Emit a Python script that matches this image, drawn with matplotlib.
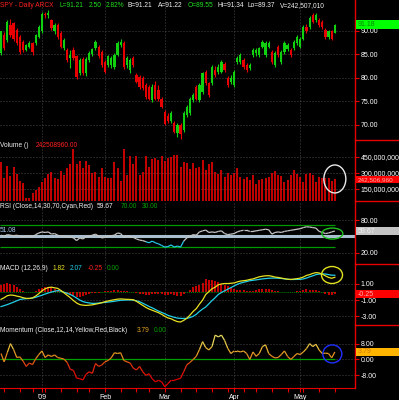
import numpy as np
import matplotlib
matplotlib.use("Agg")
import matplotlib.pyplot as plt
from matplotlib.collections import LineCollection
from matplotlib.colors import LinearSegmentedColormap, Normalize
from matplotlib.patches import Ellipse, Rectangle
from matplotlib.lines import Line2D
from matplotlib.ticker import FuncFormatter, FixedLocator

plt.rcParams["font.family"] = ["Liberation Sans", "DejaVu Sans"]

# ---------------- data (SPY daily, 12 Dec 2008 - 18 May 2009) ----------------
opens = [85.2, 89.0, 88.0, 91.2, 91.5, 90.1, 88.7, 87.6, 85.9, 86.6,
         87.3, 87.3, 88.7, 89.8, 93.6, 93.2, 92.2, 89.8, 91.2, 89.4,
         86.2, 85.9, 84.1, 85.9, 84.5, 80.9, 83.9, 81.0, 83.8, 85.0,
         86.2, 86.6, 85.5, 83.4, 82.7, 82.7, 82.3, 84.8, 86.9, 87.3,
         82.7, 81.6, 84.1, 80.6, 80.2, 79.9, 78.5, 78.1, 75.3, 78.5,
         77.5, 75.6, 72.8, 71.8, 70.8, 70.5, 68.2, 70.0, 68.9, 72.1,
         72.5, 75.3, 78.1, 75.3, 77.0, 81.3, 78.8, 78.8, 81.6, 81.3,
         81.3, 83.0, 80.0, 79.0, 78.5, 83.4, 83.4, 83.8, 82.7, 82.0,
         84.8, 85.2, 84.8, 86.6, 84.8, 86.6, 85.5, 82.7, 86.6, 83.4,
         85.5, 86.0, 85.9, 86.2, 87.3, 86.6, 88.3, 90.8, 90.8, 93.3,
         92.2, 92.2, 91.9, 90.1, 88.7, 89.8, 89.55]
highs = [90.0, 89.6, 92.3, 92.4, 91.9, 90.5, 89.0, 87.9, 87.2, 87.7,
         87.6, 89.3, 91.1, 93.9, 94.0, 94.4, 92.5, 91.6, 91.5, 89.8,
         88.4, 86.3, 85.8, 86.5, 84.9, 84.2, 84.3, 84.4, 85.6, 86.4,
         88.0, 87.0, 85.9, 83.8, 84.9, 84.5, 85.2, 87.7, 88.3, 87.7,
         84.5, 84.2, 84.5, 81.0, 80.6, 80.3, 78.9, 78.5, 78.6, 79.3,
         78.4, 76.0, 73.2, 72.6, 72.9, 70.9, 70.4, 70.5, 72.9, 74.3,
         76.0, 76.7, 78.5, 78.9, 81.3, 81.7, 79.2, 82.7, 82.4, 82.9,
         83.8, 83.4, 80.4, 80.6, 81.7, 84.6, 85.2, 84.2, 83.1, 83.1,
         86.3, 86.4, 86.6, 88.0, 87.7, 87.8, 85.9, 85.6, 87.0, 85.9,
         87.7, 87.3, 86.3, 88.0, 89.1, 88.7, 91.2, 91.3, 93.0, 93.7,
         93.7, 92.6, 92.3, 90.5, 90.2, 90.2, 91.34]
lows = [84.8, 85.8, 87.6, 88.6, 87.8, 86.9, 85.1, 85.5, 85.6, 86.3,
        84.9, 86.9, 88.4, 89.5, 92.6, 92.7, 90.1, 89.2, 88.3, 86.2,
        85.9, 83.4, 82.1, 83.7, 79.8, 80.5, 80.5, 80.3, 83.4, 84.6,
        85.9, 84.1, 82.3, 80.9, 82.3, 82.0, 81.9, 84.5, 86.5, 81.9,
        82.0, 81.0, 82.3, 78.8, 77.7, 77.4, 75.6, 75.2, 74.9, 75.2,
        75.0, 73.5, 69.9, 70.4, 70.4, 68.2, 67.4, 67.1, 68.5, 71.7,
        72.1, 74.9, 75.2, 74.9, 76.6, 78.4, 75.9, 78.4, 80.2, 80.7,
        80.9, 81.2, 78.1, 78.6, 78.1, 82.9, 83.0, 81.9, 81.2, 81.6,
        84.4, 84.6, 84.4, 86.2, 84.3, 86.2, 83.0, 82.3, 84.4, 83.0,
        85.1, 85.6, 84.4, 85.8, 86.9, 86.2, 87.9, 89.4, 90.4, 91.5,
        91.8, 90.8, 90.4, 88.3, 88.3, 87.9, 89.37]
closes = [89.8, 86.2, 91.9, 89.0, 88.1, 87.3, 85.5, 85.9, 86.9, 87.4,
          85.5, 89.0, 90.8, 93.6, 93.2, 93.8, 90.5, 91.2, 88.7, 86.6,
          88.0, 83.8, 84.8, 84.1, 80.2, 83.8, 80.9, 84.0, 85.2, 86.0,
          87.6, 84.5, 82.7, 81.3, 84.5, 84.1, 84.8, 87.3, 87.6, 82.3,
          84.1, 83.8, 82.7, 79.2, 78.1, 77.8, 76.0, 75.6, 78.1, 75.6,
          75.4, 73.9, 70.3, 70.8, 72.5, 68.6, 70.0, 68.0, 72.5, 73.9,
          75.6, 76.3, 75.6, 78.5, 80.9, 78.8, 76.3, 82.3, 80.6, 82.3,
          83.4, 81.6, 78.5, 79.9, 81.3, 84.1, 84.8, 82.3, 81.6, 82.7,
          85.9, 85.9, 86.2, 87.6, 87.3, 87.4, 83.4, 85.2, 84.8, 85.5,
          87.3, 86.9, 84.8, 87.6, 88.7, 88.3, 90.8, 89.8, 92.6, 91.9,
          93.3, 91.2, 90.8, 88.7, 89.8, 88.3, 91.21]
volumes_m = [406, 253, 366, 275, 353, 288, 225, 210, 70, 68,
             112, 140, 172, 220, 256, 288, 312, 253, 244, 319,
             281, 344, 381, 525, 381, 412, 344, 412, 375, 297,
             312, 266, 350, 266, 256, 253, 400, 344, 228, 525,
             281, 462, 381, 462, 281, 306, 462, 356, 431, 440,
             419, 462, 412, 437, 450, 465, 470, 356, 406, 390,
             340, 390, 344, 360, 420, 330, 380, 400, 310, 290,
             330, 260, 300, 280, 300, 350, 260, 240, 260, 230,
             280, 200, 230, 240, 250, 260, 300, 320, 280, 270,
             220, 230, 280, 330, 290, 266, 220, 288, 298, 281,
             220, 266, 253, 253, 256, 225, 242.5]
rsi = [52, 50, 53, 52, 51, 52, 50, 49, 50, 51, 49, 53, 56,
       58, 57, 58, 54, 55, 52, 50, 51, 48, 49, 47, 42,
       47, 45, 49, 50, 52, 54, 50, 47, 48, 50, 51, 52,
       56, 55, 48, 50, 49, 48, 45, 43, 42, 40, 38, 41,
       38, 36, 33, 30, 31, 34, 30, 32, 30,
       41, 47, 50, 53, 52, 58, 60, 61.5, 57, 58, 57, 59,
       60, 55, 53, 54, 55, 58, 60, 61, 61, 59, 59, 60,
       61, 62, 63, 62, 54, 57, 58, 57, 59, 60, 61, 62,
       63, 64, 66, 67.6, 67, 66, 65, 59, 57, 55, 56, 58, 59.67]
macd = [-0.90, -0.70, -0.45, -0.37, -0.40, -0.50, -0.58, -0.70, -0.78, -0.79,
        -0.72, -0.50, -0.20, 0.15, 0.40, 0.55, 0.60, 0.52, 0.45, 0.20,
        -0.10, -0.40, -0.70, -1.05, -1.35, -1.55, -1.62, -1.65, -1.62, -1.58,
        -1.50, -1.42, -1.32, -1.20, -1.10, -1.02, -0.95, -0.88, -0.85, -0.88,
        -0.90, -0.92, -0.95, -1.15, -1.40, -1.65, -1.90, -2.10, -2.25, -2.40,
        -2.55, -2.75, -3.00, -3.20, -3.30, -3.50, -3.65, -3.70, -3.50, -3.25,
        -2.85, -2.40, -2.05, -1.50, -1.00, -0.30, 0.05, 0.40, 0.60, 0.90,
        1.00, 1.05, 1.05, 1.08, 1.12, 1.25, 1.35, 1.40, 1.45, 1.55,
        1.62, 1.75, 1.88, 1.95, 2.00, 2.02, 1.95, 1.85, 1.80, 1.72,
        1.65, 1.58, 1.55, 1.60, 1.65, 1.72, 1.85, 2.05, 2.15, 2.30,
        2.40, 2.35, 2.20, 2.00, 1.80, 1.70, 1.82]
signal = [-1.80, -1.68, -1.55, -1.40, -1.25, -1.08, -0.92, -0.86, -0.82, -0.80,
          -0.75, -0.65, -0.52, -0.40, -0.25, -0.12, 0.00, 0.10, 0.17, 0.12,
          -0.02, -0.15, -0.30, -0.50, -0.75, -0.98, -1.18, -1.28, -1.35, -1.40,
          -1.40, -1.36, -1.32, -1.28, -1.24, -1.20, -1.14, -1.08, -1.02, -1.00,
          -0.98, -0.98, -1.00, -1.08, -1.20, -1.38, -1.58, -1.78, -1.95, -2.15,
          -2.35, -2.52, -2.68, -2.88, -3.00, -3.12, -3.22, -3.25, -3.27, -3.25,
          -3.15, -3.00, -2.75, -2.40, -2.10, -1.85, -1.45, -1.05, -0.70, -0.30,
          -0.05, 0.15, 0.35, 0.55, 0.75, 0.95, 1.10, 1.20, 1.30, 1.40,
          1.45, 1.50, 1.56, 1.62, 1.66, 1.70, 1.72, 1.72, 1.70, 1.68,
          1.62, 1.58, 1.55, 1.55, 1.56, 1.56, 1.62, 1.72, 1.88, 2.00,
          2.15, 2.22, 2.24, 2.22, 2.15, 2.08, 2.07]
momentum = [3.0, -1.2, 3.5, 8.0, 5.0, 1.0, 1.3, -0.8, -3.5, -1.8,
            -2.6, 0.3, 2.5, 4.3, 1.0, 2.3, 1.5, 2.3, 1.0, 0.6,
            0.2, -1.5, -5.0, -5.5, -9.4, -9.7, -10.3, -7.5, -6.2, -7.0,
            -2.0, -3.5, -2.8, -1.2, -0.5, 0.8, 3.4, 3.0, 3.4, -0.5,
            -1.2, -1.8, -4.4, -5.3, -3.5, -6.2, -8.0, -7.2, -9.7, -11.3,
            -10.5, -11.3, -13.8, -12.2, -10.5, -10.5, -10.0, -9.5, -6.2, -2.7,
            -1.5, 0.0, 1.6, 5.0, 9.0, 6.0, 4.8, 6.5, 12.3, 11.4,
            12.3, 9.6, 5.6, 3.0, 4.3, 4.3, 3.8, 4.3, 3.0, 0.0,
            3.8, 1.6, 3.0, 6.5, 7.4, 3.0, 1.6, 0.8, 1.0, 2.5,
            4.3, 1.5, 0.0, 1.5, 3.0, 2.5, 3.8, 5.5, 8.0, 6.5,
            7.7, 4.8, 3.0, 3.2, 3.0, 0.8, 3.79]

month_ticks = [13, 33, 52, 74, 95]
month_labels = ["'09", "Feb", "Mar", "Apr", "May"]
week_ticks = [1, 6, 10, 14, 19, 24, 28, 33, 38, 43, 47, 52, 57, 62, 67,
              72, 77, 81, 86, 91, 96, 101, 106]

price_ticks = [70, 75, 80, 85, 90]
vol_ticks = [150, 300, 450]
rsi_ticks = [20, 80]
rsi_levels = [70, 30]
rsi_base = 51.08
macd_ticks = [1, -1, -3]
mom_ticks = [8, 0, -8]

# ---------------- figure ----------------
W, H = 399, 400
PR = 355
FS_T = 4.8
FS_A = 5.0
RED = "#e80000"
GREEN = "#10d010"
fig = plt.figure(figsize=(W / 100, H / 100), dpi=100, facecolor="black")

idx = np.arange(len(closes))
XL = (-0.32, 112.4)


def panel(top, bottom, ylo, yhi, ticks, fmt):
    ax = fig.add_axes([0, 1 - bottom / H, PR / W, (bottom - top) / H])
    ax.set_facecolor("black")
    ax.set_xlim(*XL)
    ax.set_ylim(ylo, yhi)
    for k, s in ax.spines.items():
        s.set_visible(k == "right")
    ax.spines["right"].set_color(RED)
    ax.spines["right"].set_linewidth(1.0)
    ax.yaxis.tick_right()
    ax.yaxis.set_major_locator(FixedLocator(ticks))
    ax.yaxis.set_major_formatter(FuncFormatter(fmt))
    ax.tick_params(axis="y", colors=RED, labelcolor="white", labelsize=FS_A,
                   length=3, width=0.8, pad=1.0)
    ax.set_xticks(month_ticks)
    ax.tick_params(axis="x", bottom=False, labelbottom=False)
    ax.grid(True, color="#555555", linestyle=(0, (1.2, 2.4)), linewidth=0.6)
    ax.set_axisbelow(True)
    return ax


f2 = lambda v, p: f"{v:.2f}"

# price
axp = panel(0, 140, 66.82, 96.46, price_ticks, f2)
o = np.array(opens); c = np.array(closes)
cols = np.where(c >= o, GREEN, RED)
axp.vlines(idx, lows, highs, colors=cols, linewidth=0.8)
axp.bar(idx, np.maximum(np.abs(c - o), 0.15), bottom=np.minimum(o, c),
        width=0.72, color=cols, linewidth=0)

# volume
VLO = 37.5
axv = panel(140, 201, VLO, 609, vol_ticks, lambda v, p: f"{int(v * 1e6):,}")
axv.vlines(idx, VLO, volumes_m, colors=RED, linewidth=1.2)

# RSI
axr = panel(201, 264, -1.2, 115.1, rsi_ticks, f2)
axr.axhline(rsi_base, color="#a9bfd0", linewidth=2.2, zorder=2)
axr.hlines(rsi_levels, XL[0], 106, colors="#009a00", linewidth=0.9, zorder=2)
rv = np.array(rsi, dtype=float)
pts = np.column_stack([idx, rv]).reshape(-1, 1, 2)
segs = np.concatenate([pts[:-1], pts[1:]], axis=1)
seg_cols = ["#26c6e6" if min(a, b) < 40 else "#c4c4c4" for a, b in zip(rv[:-1], rv[1:])]
axr.add_collection(LineCollection(segs, colors=seg_cols, linewidths=0.9, zorder=3))

# MACD
axm = panel(264, 325, -4.07, 3.46, macd_ticks, f2)
hist = np.array(macd) - np.array(signal)
axm.hlines(0, XL[0], 106.5, colors="#008800", linewidth=0.7, linestyles=(0, (1, 1)))
axm.vlines(idx, 0, hist, colors=RED, linewidth=1.2, zorder=2)
axm.plot(idx, signal, color="#22d0e8", linewidth=0.9, zorder=3)
axm.plot(idx, macd, color="#e8e020", linewidth=0.9, zorder=4)

# Momentum
axo = panel(325, 388, -14.4, 17.4, mom_ticks, f2)
axo.hlines(0, XL[0], 106, colors="#00a000", linewidth=0.9, zorder=2)
mv = np.array(momentum)
pts = np.column_stack([idx, mv]).reshape(-1, 1, 2)
segs = np.concatenate([pts[:-1], pts[1:]], axis=1)
cmap = LinearSegmentedColormap.from_list(
    "mom", [(0.0, "#e00000"), (0.35, "#e03010"), (0.5, "#e07818"),
            (0.75, "#e8b030"), (1.0, "#e8dc60")])
lc = LineCollection(segs, cmap=cmap, norm=Normalize(-10, 10), linewidths=0.9, zorder=3)
lc.set_array((mv[:-1] + mv[1:]) / 2)
axo.add_collection(lc)
axo.spines["bottom"].set_visible(True)
axo.spines["bottom"].set_color(RED)
axo.set_xticks(month_ticks)
axo.set_xticklabels(month_labels)
axo.set_xticks(week_ticks, minor=True)
axo.tick_params(axis="x", which="both", bottom=True, labelbottom=True, colors=RED,
                labelcolor="white", labelsize=FS_A, length=3, width=0.8, pad=1.0)

# right-area separators
for y in [140, 201, 264, 325]:
    fig.add_artist(Line2D([PR / W, 1], [1 - y / H] * 2, color=RED, linewidth=1.0,
                          transform=fig.transFigure))


def ftxt(x, y, s, color, fs=FS_T):
    fig.text(x / W, 1 - y / H, s, color=color, fontsize=fs, ha="left", va="center")


def value_box(ax, val, text, fc, tc, h=9, fs=FS_A):
    yf = ax.transData.transform((0, val))[1] / fig.bbox.height
    fig.add_artist(Rectangle((PR / W + 0.6 / W, yf - h / 2 / H), (W - PR) / W, h / H,
                             transform=fig.transFigure, facecolor=fc, edgecolor="none",
                             zorder=5))
    fig.text(358 / W, yf, text, color=tc, fontsize=fs, ha="left", va="center", zorder=6)


def ring(ax, i, val, w, h, color):
    xd, yd = ax.transData.transform((i, val))
    fig.add_artist(Ellipse((xd / fig.bbox.width, yd / fig.bbox.height), w / W, h / H,
                           transform=fig.transFigure, fill=False, edgecolor=color,
                           linewidth=1.0, zorder=7))


value_box(axp, 91.18, "91.18", "#00ff00", "#008800")
value_box(axv, 238.0, "242,506,960", "#ff0000", "#ffb0b0", h=7, fs=4.6)
value_box(axr, 59.67, "59.67", "#c4c4c4", "#eeeeee", h=8)
value_box(axm, -0.25, "-0.25", "#ff0000", "#ffb0b0", h=8)
value_box(axo, 3.79, "3.79", "#ffb400", "#d07800", h=8)

ring(axv, 106.0, 244, 22, 28, "#e8e8e8")
ring(axr, 105.2, 55, 21, 11, "#20c020")
ring(axm, 105.1, 2.1, 21, 17, "#e0e020")
ring(axo, 105.2, 2.8, 19, 18, "#2030ff")

WH = "#f0f0f0"
GT = "#20e020"
ftxt(0, 5.5, "SPY - Daily ARCX", "#ff2020")
ftxt(60, 5.5, "L=91.21", GT)
ftxt(89, 5.5, "2.50", GT)
ftxt(106, 5.5, "2.82%", GT)
ftxt(128, 5.5, "B=91.21", WH)
ftxt(158, 5.5, "A=91.22", WH)
ftxt(188, 5.5, "O=89.55", GT)
ftxt(217, 5.5, "Hi=91.34", WH)
ftxt(248, 5.5, "Lo=89.37", WH)
ftxt(280, 5.5, "V=242,507,010", WH)

ftxt(0, 145, "Volume ()", WH)
ftxt(36, 145, "242508960.00", "#ff2020")

ftxt(0, 207, "RSI (Close,14,30,70,Cyan,Red)", WH)
ftxt(97, 207, "59.67", WH)
ftxt(121, 207, "70.00", "#00a000")
ftxt(142, 207, "30.00", "#00a000")
ftxt(0, 231, "51.08", "#a8c4e8")

ftxt(0, 268, "MACD (12,26,9)", WH)
ftxt(53, 268, "1.82", "#e8e020")
ftxt(70, 268, "2.07", "#22d0e8")
ftxt(88, 268, "-0.25", "#ff2020")
ftxt(107, 268, "0.00", "#00a000")

ftxt(0, 331, "Momentum (Close,12,14,Yellow,Red,Black)", WH)
ftxt(137, 331, "3.79", "#e0a020")
ftxt(154, 331, "0.00", "#00a000")

fig.savefig("out.png", dpi=100, facecolor="black")
